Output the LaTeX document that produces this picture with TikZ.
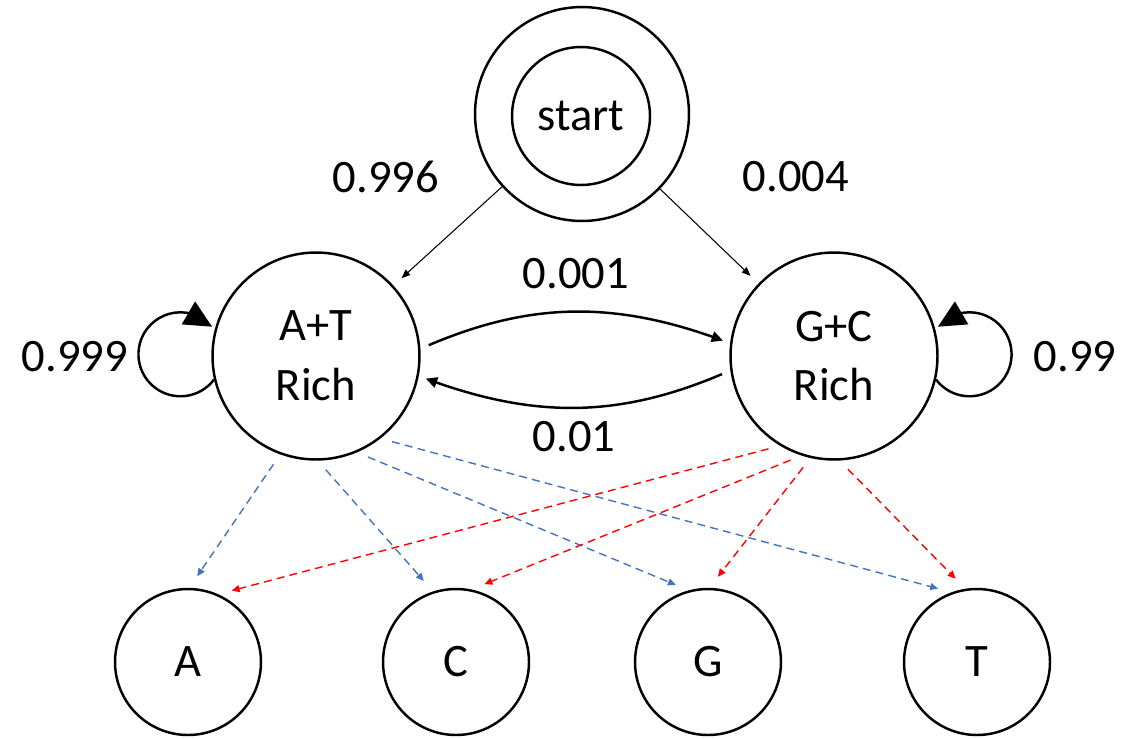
\documentclass[tikz,border=0pt]{standalone}
\usepackage{fontspec}
\setmainfont{Carlito}
\usetikzlibrary{arrows.meta,bending}

\definecolor{emitblue}{HTML}{4472C4}
\definecolor{emitred}{HTML}{FF0000}

\begin{document}
\begin{tikzpicture}[x=0.02cm,y=-0.02cm,
  every node/.style={font=\fontsize{26.5}{34}\selectfont},
  state/.style={circle,draw,line width=1.4pt,inner sep=0pt,align=center},
  big/.style={state,minimum size=4.14cm},
  sym/.style={state,minimum size=2.92cm},
  init/.style={line width=0.6pt,-{Triangle[length=5pt,width=4pt]},shorten >=0.22cm},
  trans/.style={line width=1.4pt,-{Triangle[length=6.5pt,width=6pt]},shorten <=0.18cm,shorten >=0.15cm},
  selfloop/.style={line width=1.4pt,-{Triangle[length=0.55cm,width=0.52cm,flex]}},
  emit/.style={line width=0.8pt,dash pattern=on 4.5pt off 3pt,-{Triangle[length=4.5pt,width=4pt]},shorten <=0.24cm,shorten >=0.28cm},
  prob/.style={inner sep=0pt}]
  \useasboundingbox (0,0) rectangle (1145,738);

  \node[state,minimum size=4.28cm] (start) at (582,114) {};
  \node[state,minimum size=2.76cm] (startin) at (581,116) {start};
  \node[big] (AT) at (316,356) {A+T\\Rich};
  \node[big] (GC) at (834,356) {G+C\\Rich};
  \node[sym] (A) at (188,662) {A};
  \node[sym] (C) at (456,662) {C};
  \node[sym] (G) at (708,662) {G};
  \node[sym] (T) at (977,662) {T};

  \draw[init] (start) -- (AT);
  \draw[init] (start) -- (GC);
  \draw[trans] (AT.4) to[bend left=22] (GC.173);
  \draw[trans] (GC.188) to[bend left=22] (AT.349);
  \draw[selfloop] (AT.193) arc[start angle=-37,end angle=-319,radius=0.84cm];
  \draw[selfloop] (GC.347) arc[start angle=217,end angle=499,radius=0.84cm];

  % emissions
  \foreach \a/\n/\b in {250/A/89,271/C/108,293/G/105,308/T/110}
    \draw[emit,emitblue] (AT.\a) -- (\n.\b);
  \foreach \a/\n/\b in {239/A/66,252/C/78,257/G/89,273/T/99}
    \draw[emit,emitred] (GC.\a) -- (\n.\b);

  \node[prob] (pAT) at (386,177) {0.996};
  \node[prob] (pGC) at (796,177) {0.004};
  \node[prob] (pATGC) at (576,274) {0.001};
  \node[prob] (pGCAT) at (574,437) {0.01};
  \node[prob] (pATAT) at (75,357) {0.999};
  \node[prob] (pGCGC) at (1075,357) {0.99};
\end{tikzpicture}
\end{document}
